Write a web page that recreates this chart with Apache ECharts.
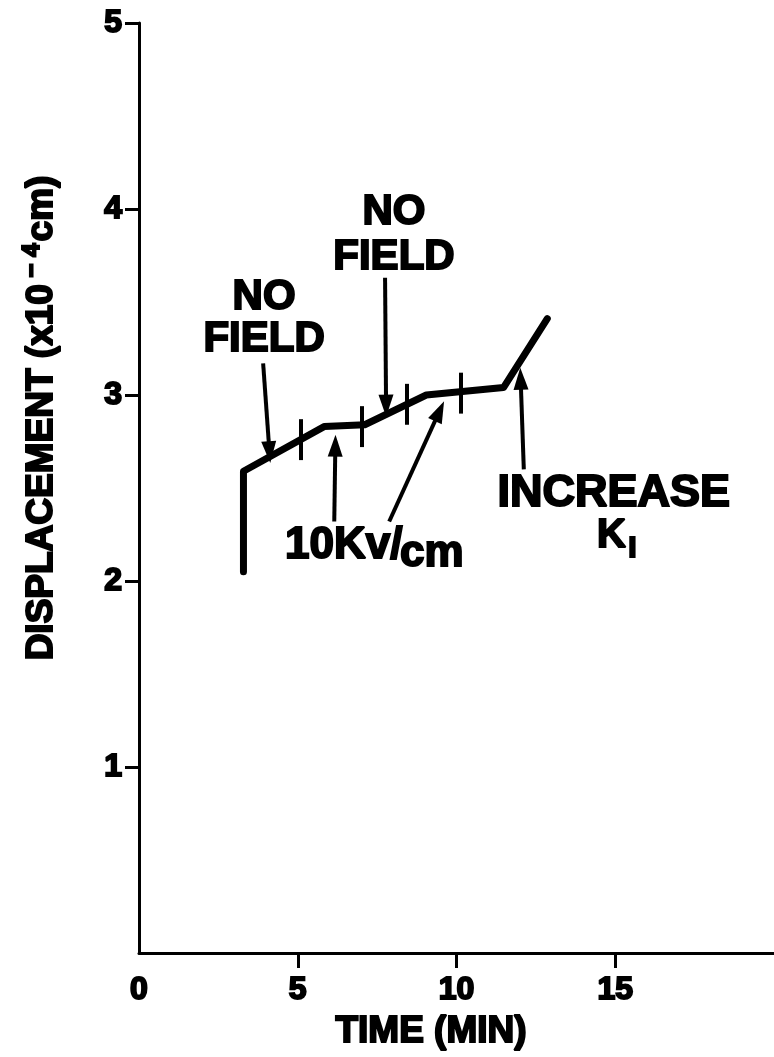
<!DOCTYPE html>
<html>
<head>
<meta charset="utf-8">
<script src="https://cdn.jsdelivr.net/npm/echarts@6/dist/echarts.min.js"></script>
<style>
html,body{margin:0;padding:0;background:#fff;}
#chart{width:774px;height:1057px;}
</style>
</head>
<body>
<div id="chart"></div>
<script>
// ---- data ----
const xTickLabels = [0, 5, 10, 15];
const yTickLabels = [1, 2, 3, 4, 5];

// displacement curve (time in min, displacement x10^-4 cm)
const curveX = [3.29, 3.29, 5.83, 7.11, 9.05, 11.48, 12.86];
const curveY = [2.05, 2.59, 2.83, 2.84, 3.00, 3.04, 3.41];

// short vertical marks across the curve
const markX = [5.11, 7.01, 8.44, 10.13];
const markY = [2.76, 2.83, 2.95, 3.01];
const markHalf = 0.11;

// annotation arrows (tail -> head)
const arrowFromX = [3.91, 7.75, 6.15, 7.88, 12.12];
const arrowFromY = [3.17, 3.63, 2.32, 2.32, 2.60];
const arrowToX   = [4.09, 7.78, 6.18, 9.35, 12.03];
const arrowToY   = [2.74, 2.99, 2.68, 2.87, 3.04];

// annotation texts
const noteText = ['NO\nFIELD', 'NO\nFIELD', '10Kv/', 'cm', 'INCREASE', 'K', 'I'];
const noteX    = [3.94, 8.03, 6.45, 9.22, 14.95, 14.88, 15.54];
const noteY    = [3.41, 3.86, 2.19, 2.145, 2.47, 2.24, 2.175];
const noteSize = [42, 42, 44, 44, 45, 40, 30];
const noteLine = [42, 45, 44, 44, 44, 40, 30];

// ---- chart ----
const FONT = '"Liberation Sans", Arial, Helvetica, sans-serif';
const chart = echarts.init(document.getElementById('chart'), null, {renderer: 'canvas'});

const boldText = (size, bw) => ({
  fontFamily: FONT, fontWeight: 'bold', fontSize: size, color: '#000',
  textBorderColor: '#000', textBorderWidth: bw
});

const curveData = curveX.map((x, i) => [x, curveY[i]]);

const arrowPath = 'path://M7,0 L14,22 L0,22 Z';
const lineItems = [];
for (let i = 0; i < arrowFromX.length; i++) {
  lineItems.push([
    {coord: [arrowFromX[i], arrowFromY[i]], symbol: 'none'},
    {coord: [arrowToX[i], arrowToY[i]], symbol: arrowPath, symbolSize: [15, 22], symbolOffset: [0, '-40%']}
  ]);
}
for (let i = 0; i < markX.length; i++) {
  lineItems.push([
    {coord: [markX[i], markY[i] - markHalf], symbol: 'none'},
    {coord: [markX[i], markY[i] + markHalf], symbol: 'none'}
  ]);
}

const pointItems = noteText.map((t, i) => ({
  name: t,
  coord: [noteX[i], noteY[i]],
  symbol: 'circle',
  symbolSize: 0,
  label: Object.assign({show: true, position: 'inside', formatter: '{b}', align: 'center',
    lineHeight: noteLine[i]}, boldText(noteSize[i], 2))
}));

chart.setOption({
  animation: false,
  backgroundColor: '#ffffff',
  grid: {left: 139, top: 23, width: 650, height: 930, containLabel: false},
  xAxis: {
    type: 'value', min: 0, max: 20, interval: 5,
    axisLine: {show: true, lineStyle: {color: '#000', width: 3}},
    axisTick: {show: true, length: 15, lineStyle: {color: '#000', width: 3}, customValues: [5, 10, 15]},
    axisLabel: Object.assign({margin: 21, customValues: xTickLabels}, boldText(32, 2)),
    splitLine: {show: false}
  },
  yAxis: {
    type: 'value', min: 0, max: 5, interval: 1,
    axisLine: {show: true, lineStyle: {color: '#000', width: 3}},
    axisTick: {show: true, length: 14, lineStyle: {color: '#000', width: 3}, customValues: yTickLabels},
    axisLabel: Object.assign({margin: 17, customValues: yTickLabels}, boldText(32, 2)),
    splitLine: {show: false}
  },
  graphic: [
    {
      type: 'text', x: 431, y: 1032,
      style: {
        text: 'TIME (MIN)', align: 'center', verticalAlign: 'middle',
        fontFamily: FONT, fontWeight: 'bold', fontSize: 37,
        fill: '#000', stroke: '#000', lineWidth: 2
      }
    },
    {
      type: 'text', x: 40, y: 418, rotation: Math.PI / 2,
      style: {
        text: '{a|DISPLACEMENT (x10}{s| \u2212 4}{a|cm)}',
        align: 'center', verticalAlign: 'middle',
        rich: {
          a: {fontFamily: FONT, fontWeight: 'bold', fontSize: 37, fill: '#000', stroke: '#000', lineWidth: 2, lineHeight: 40, verticalAlign: 'bottom'},
          s: {fontFamily: FONT, fontWeight: 'bold', fontSize: 24, fill: '#000', stroke: '#000', lineWidth: 2, lineHeight: 40, verticalAlign: 'top', padding: [0, 2, 14, 0]}
        }
      }
    }
  ],
  series: [
    {
      type: 'line',
      data: curveData,
      symbol: 'none',
      silent: true,
      lineStyle: {color: '#000', width: 7, cap: 'round', join: 'round'},
      markLine: {
        silent: true,
        animation: false,
        symbol: ['none', 'none'],
        label: {show: false},
        lineStyle: {color: '#000', width: 4, type: 'solid'},
        emphasis: {disabled: true},
        data: lineItems
      },
      markPoint: {
        silent: true,
        animation: false,
        data: pointItems
      }
    }
  ]
});
</script>
</body>
</html>
